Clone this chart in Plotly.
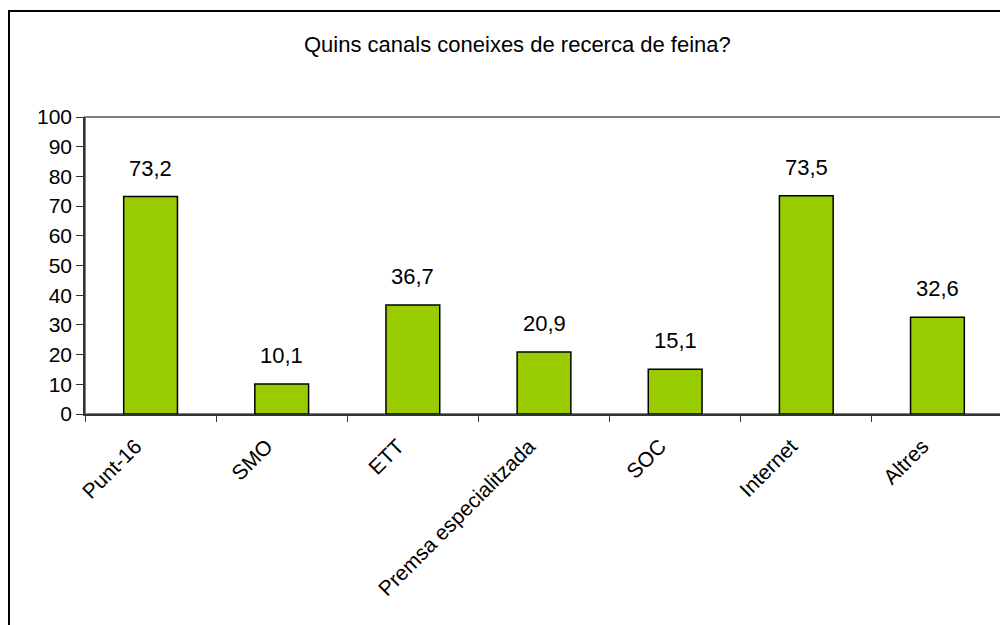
import plotly.graph_objects as go

categories = ["Punt-16", "SMO", "ETT", "Premsa especialitzada", "SOC", "Internet", "Altres"]
values = [73.2, 10.1, 36.7, 20.9, 15.1, 73.5, 32.6]
labels = ["73,2", "10,1", "36,7", "20,9", "15,1", "73,5", "32,6"]
title_text = "Quins canals coneixes de recerca de feina?"

# the page body has an 8px margin: work in page pixels, shift by OFF
OFF = 8
W, H = 1008 - OFF, 625 - OFF
ml, mt = 85 - OFF, 117 - OFF
plot_right, plot_bottom = 1003 - OFF, 414 - OFF
mr, mb = W - plot_right, H - plot_bottom
pw, ph = W - ml - mr, H - mt - mb

FONT = "Liberation Sans, Arial, sans-serif"

fig = go.Figure()
fig.add_trace(go.Bar(
    x=categories, y=values, width=0.41,
    marker=dict(color="#99CC00", line=dict(color="#000000", width=1.5)),
    hoverinfo="skip",
))

for c, v, t in zip(categories, values, labels):
    fig.add_annotation(x=c, y=v, text=t, showarrow=False, yanchor="bottom",
                       yshift=14, font=dict(family=FONT, size=22, color="#000"))

# plot area border (gray)
fig.add_shape(type="rect", xref="paper", yref="paper", x0=0, y0=0, x1=1, y1=1,
              line=dict(color="#808080", width=2), layer="below")


def px_to_paper_x(px):
    return (px - OFF - ml) / pw


def px_to_paper_y(py):
    return 1 - (py - OFF - mt) / ph


# outer chart border
fig.add_shape(type="rect", xref="paper", yref="paper",
              x0=px_to_paper_x(9), y0=px_to_paper_y(640),
              x1=px_to_paper_x(1020), y1=px_to_paper_y(11),
              line=dict(color="#000000", width=2))

fig.add_annotation(xref="paper", yref="paper", x=px_to_paper_x(517), y=px_to_paper_y(44),
                   text=title_text, showarrow=False, xanchor="center", yanchor="middle",
                   font=dict(family=FONT, size=22, color="#000"))

fig.update_layout(
    width=W, height=H,
    margin=dict(l=ml, r=mr, t=mt, b=mb, pad=0),
    paper_bgcolor="white", plot_bgcolor="white",
    showlegend=False,
    xaxis=dict(
        type="category", tickangle=-45, tickson="boundaries",
        ticks="outside", ticklen=6, tickcolor="#333", tickwidth=1,
        showline=True, linecolor="#333", linewidth=1.5,
        showgrid=False, zeroline=False,
        ticklabelstandoff=10, ticklabelshift=-15,
        tickfont=dict(family=FONT, size=21, color="#000"),
    ),
    yaxis=dict(
        range=[0, 100], dtick=10, tick0=0,
        ticks="outside", ticklen=7, tickcolor="#333", tickwidth=1,
        showline=True, linecolor="#333", linewidth=1.5,
        showgrid=False, zeroline=False,
        tickfont=dict(family=FONT, size=21, color="#000"),
    ),
    font=dict(family=FONT),
)

fig.write_html("out.html")
